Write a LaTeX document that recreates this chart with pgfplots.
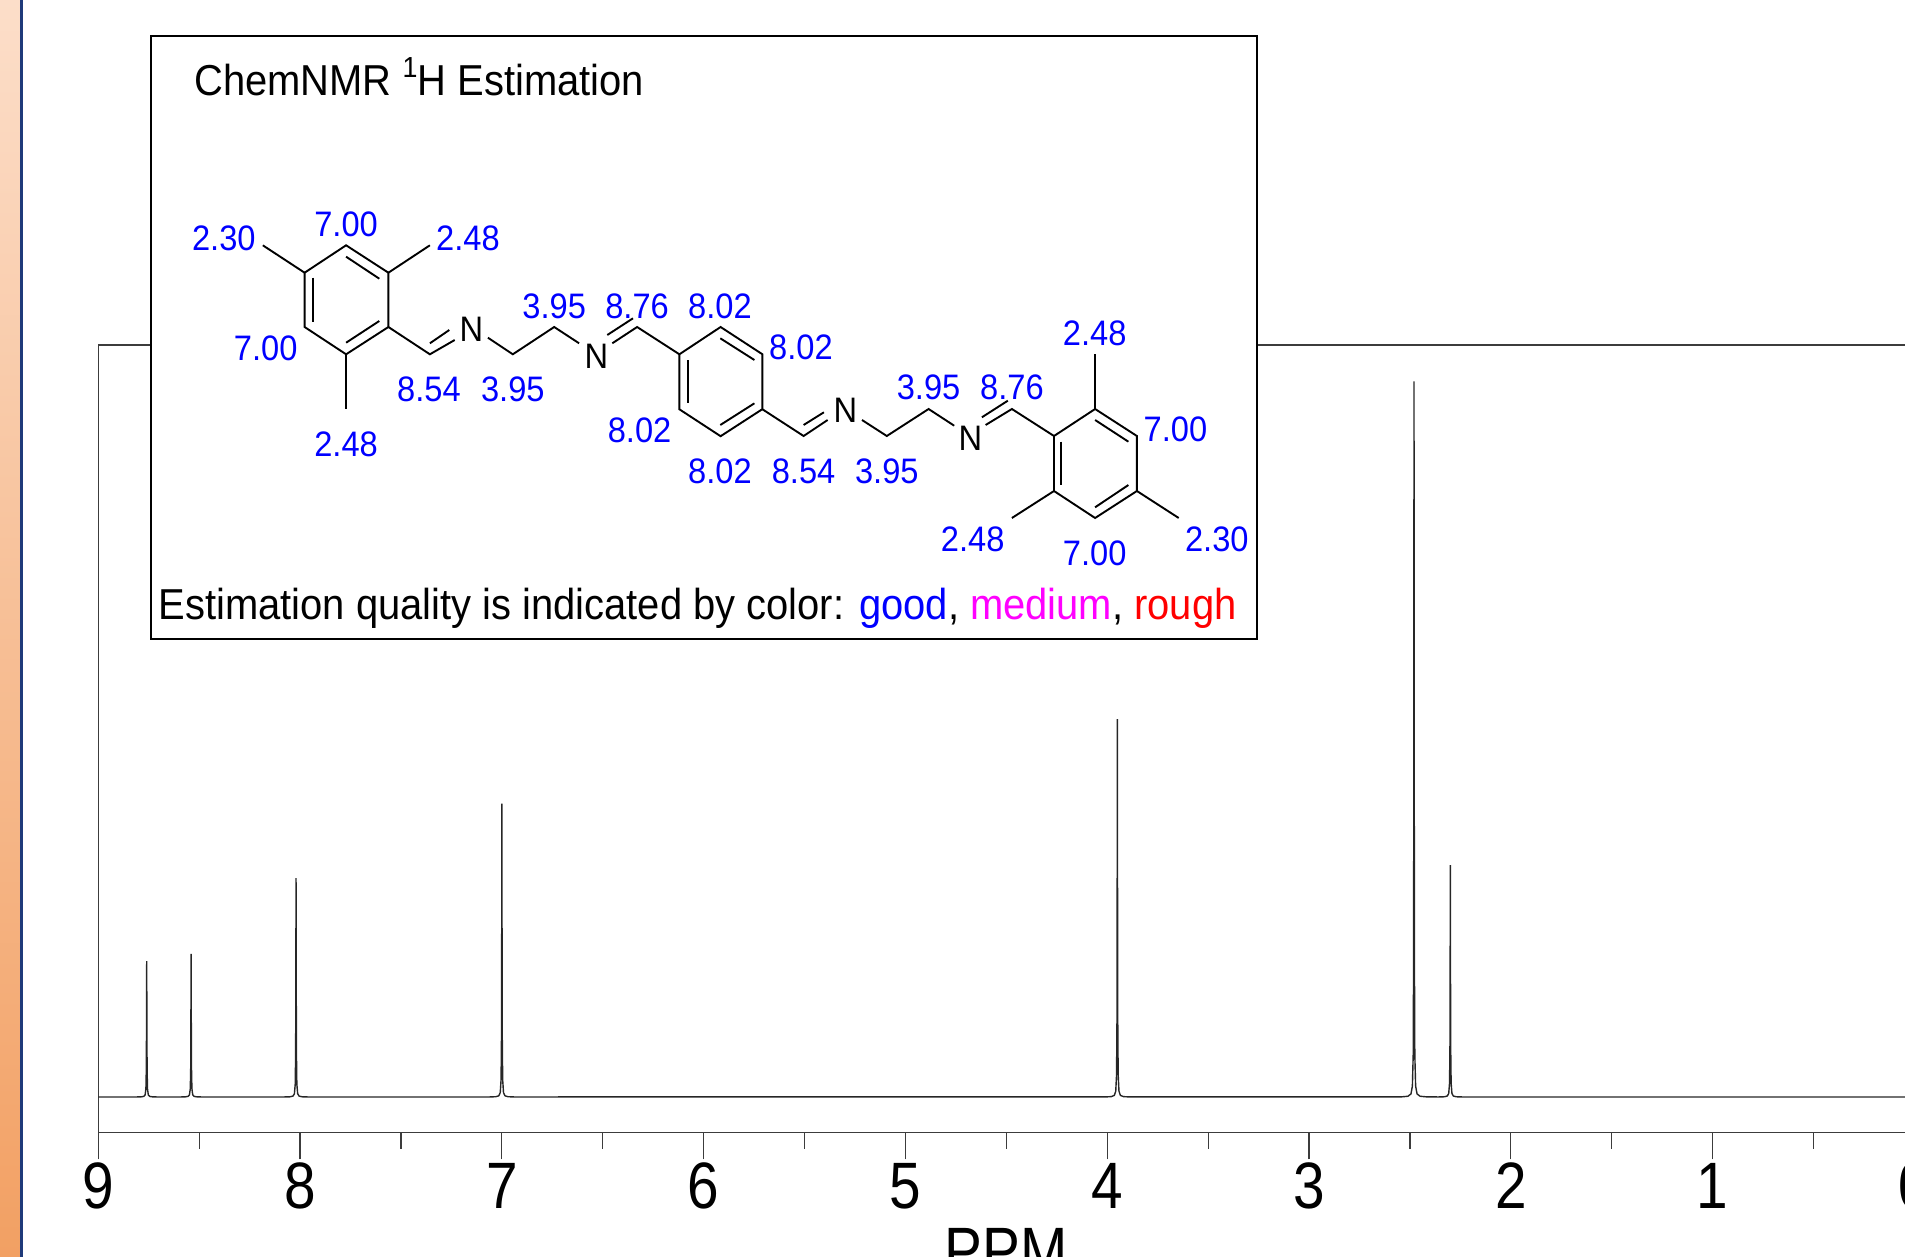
\documentclass[border=0pt]{standalone}
\usepackage{fontspec}
\setmainfont[FakeStretch=0.922]{Liberation Sans}
\newfontfamily\bigf[FakeStretch=0.865]{Liberation Sans}
\usepackage{pgfplots}
\usepackage{pgfplotstable}
\pgfplotsset{compat=1.18}
\definecolor{stripTop}{HTML}{FCDEC9}
\definecolor{stripBot}{HTML}{F2A063}
\definecolor{navy}{HTML}{1F3A7A}
\definecolor{axisgray}{HTML}{3C3C3C}
\definecolor{medcol}{HTML}{FF00FF}
\definecolor{goodcol}{HTML}{0000FF}
\definecolor{roughcol}{HTML}{FF0000}
\pgfplotstableread{
x y
0 0
2.24 0.01
2.27 0.036
2.285 0.143
2.292 0.499
2.296 1.91
2.298 6.48
2.299 16.2
2.30 32.4
2.301 16.2
2.302 6.48
2.304 1.91
2.308 0.499
2.315 0.143
2.33 0.036
2.36 0.01
2.42 0.03
2.45 0.11
2.465 0.44
2.472 1.54
2.476 5.9
2.478 20
2.479 50
2.48 100
2.481 50
2.482 20
2.484 5.9
2.488 1.54
2.495 0.44
2.51 0.11
2.54 0.03
3.89 0.016
3.92 0.058
3.935 0.232
3.942 0.813
3.946 3.12
3.948 10.56
3.949 26.4
3.95 52.8
3.951 26.4
3.952 10.56
3.954 3.12
3.958 0.813
3.965 0.232
3.98 0.058
4.01 0.016
6.94 0.012
6.97 0.045
6.985 0.18
6.992 0.631
6.996 2.42
6.998 8.2
6.999 20.5
7.00 41
7.001 20.5
7.002 8.2
7.004 2.42
7.008 0.631
7.015 0.18
7.03 0.045
7.06 0.012
7.96 0.009
7.99 0.034
8.005 0.135
8.012 0.471
8.016 1.81
8.018 6.12
8.019 15.3
8.02 30.6
8.021 15.3
8.022 6.12
8.024 1.81
8.028 0.471
8.035 0.135
8.05 0.034
8.08 0.009
8.48 0.006
8.51 0.022
8.525 0.088
8.532 0.308
8.536 1.18
8.538 4
8.539 10
8.54 20
8.541 10
8.542 4
8.544 1.18
8.548 0.308
8.555 0.088
8.57 0.022
8.60 0.006
8.70 0.006
8.73 0.021
8.745 0.084
8.752 0.293
8.756 1.12
8.758 3.8
8.759 9.5
8.76 19
8.761 9.5
8.762 3.8
8.764 1.12
8.768 0.293
8.775 0.084
8.79 0.021
8.82 0.006
9 0
}\spectrum
\def\lab(#1,#2)#3{\node[text=goodcol,font=\fontsize{35.4}{38}\selectfont,inner sep=0pt] at (#1,#2) {#3};}
\def\atom(#1,#2){\node[text=black,font=\fontsize{35.4}{38}\selectfont,inner sep=0pt] at (#1,#2) {N};}
\begin{document}
\begin{tikzpicture}
\path[use as bounding box] (0pt,0pt) rectangle (1905pt,-1257pt);
\clip (0pt,0pt) rectangle (1905pt,-1257pt);
\shade[top color=stripTop,bottom color=stripBot] (0pt,0pt) rectangle (20pt,-1257pt);
\fill[navy] (20pt,0pt) rectangle (22.7pt,-1257pt);
\begin{axis}[
  at={(98.3pt,-1132.3pt)}, anchor=south west,
  scale only axis, width=1816.2pt, height=787.3pt,
  xmin=0, xmax=9, ymin=-4.93, ymax=105.1,
  x dir=reverse,
  axis line style={draw=axisgray,line width=1.2pt},
  ytick=\empty,
  xtick={0,1,2,3,4,5,6,7,8,9},
  xticklabels={0,1,2,3,4,5,6,7,8,9},
  minor x tick num=1,
  tick align=outside,
  xtick pos=bottom,
  major tick length=27pt,
  minor tick length=16.4pt,
  every tick/.style={draw=axisgray,line width=1.2pt},
  xticklabel style={font=\bigf\fontsize{65.6}{70}\selectfont,anchor=base,inner sep=0pt,yshift=-49pt},
  xlabel={PPM},
  xlabel style={font=\bigf\fontsize{65.6}{70}\selectfont,at={(axis description cs:0.5,0)},anchor=base,inner sep=0pt,yshift=-141.4pt},
]
\addplot[color=black!85,line width=1.4pt,line join=bevel,mark=none] table[x=x,y=y] {\spectrum};
\end{axis}
\begin{scope}[x=1pt,y=-1pt]
\draw[fill=white,draw=black,line width=2pt] (150.8,36) rectangle (1257.3,639);
\node[anchor=base west,inner sep=0pt,font=\fontsize{43.3}{46}\selectfont] at (194,96) {ChemNMR \raisebox{0.42em}{\fontsize{29}{30}\selectfont 1}H Estimation};
\node[anchor=base west,inner sep=0pt,font=\fontsize{43.3}{46}\selectfont] at (158.6,619.3) {Estimation quality is indicated by color: \textcolor{goodcol}{good}, \textcolor{medcol}{medium}, \textcolor{roughcol}{rough}};
\begin{scope}[line width=1.9pt,line cap=butt,line join=miter,draw=black]
% ring A
\draw (346.1,245.3)--(388.4,272.7)--(388.4,327)--(346.1,354.3)--(304.6,327)--(304.6,272.7)--cycle;
\draw (346.1,256.7)--(379.3,278.7);
\draw (379.3,321)--(346.1,342.7);
\draw (312.9,277.7)--(312.9,321.7);
\draw (304.6,272.7)--(262.8,245.3);
\draw (388.4,272.7)--(429.9,245.3);
\draw (346.1,354.3)--(346.1,409.3);
% chain 1
\draw (388.4,327)--(429.9,354.3)--(454.7,340);
\draw (429.9,343.3)--(449.3,330);
\draw (487.9,337.7)--(512.8,354.3)--(554.2,327)--(579.1,343.3);
\draw (612.3,343.3)--(637.1,327)--(679.4,354.3);
\draw (607.3,335)--(633,318.3);
% ring B
\draw (679.4,354.3)--(720.6,327)--(762.3,354.2)--(762.3,409.2)--(720.6,436.2)--(679.4,409.3)--cycle;
\draw (720.3,338.3)--(754.4,360);
\draw (754.4,403.3)--(720.3,425);
\draw (687.7,360)--(687.7,403.3);
% chain 2
\draw (762.3,409.2)--(803.6,436)--(827.6,420);
\draw (803.6,425)--(823.9,412.3);
\draw (862,420)--(886.8,436)--(928.6,409)--(954.2,425.7);
\draw (985.6,425)--(1011.9,409)--(1054,436);
\draw (981.9,417.3)--(1007.8,400.7);
% ring C
\draw (1054,436)--(1095.1,409)--(1136.9,436)--(1136.9,491)--(1095.1,518)--(1054,491)--cycle;
\draw (1095.1,420)--(1128.4,441.7);
\draw (1128.4,485)--(1095.1,507.3);
\draw (1061.4,441.7)--(1061.4,485);
\draw (1095.1,409)--(1095.1,354);
\draw (1054,491)--(1011.9,518);
\draw (1136.9,491)--(1178.7,518);
\end{scope}
\atom(471.3,329)
\atom(596.5,356)
\atom(845.4,410.7)
\atom(970.4,438.3)
\lab(223.8,238.3){2.30}
\lab(346.1,224.3){7.00}
\lab(468,238.3){2.48}
\lab(265.7,348.3){7.00}
\lab(429,389.3){8.54}
\lab(512.8,389.3){3.95}
\lab(554.2,306){3.95}
\lab(637.1,306){8.76}
\lab(720,306){8.02}
\lab(346.1,444.3){2.48}
\lab(639.6,430){8.02}
\lab(720,471.7){8.02}
\lab(803.6,471){8.54}
\lab(886.8,471){3.95}
\lab(801,347.7){8.02}
\lab(928.6,387.7){3.95}
\lab(1011.9,387.7){8.76}
\lab(1094.7,333.3){2.48}
\lab(1175.4,429){7.00}
\lab(972.7,539.3){2.48}
\lab(1094.7,553.3){7.00}
\lab(1216.8,539.3){2.30}
\end{scope}
\end{tikzpicture}
\end{document}
